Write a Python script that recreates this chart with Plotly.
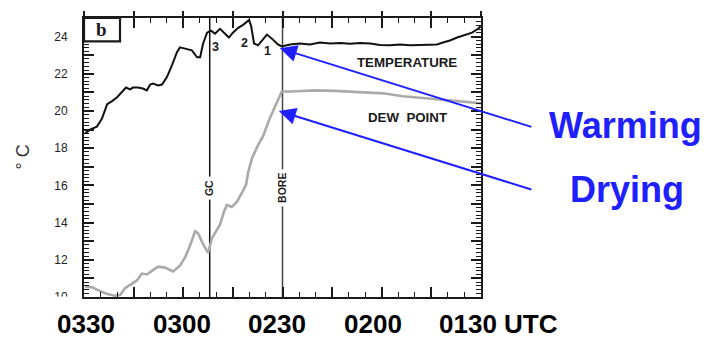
import plotly.graph_objects as go

# time axis: minutes after 0100 UTC (0330 -> 150, 0130 -> 30), plotted reversed
temp_t = [149.7, 148.2, 146.1, 144.6, 143.0, 141.5, 140.0, 138.5, 137.3, 136.1, 135.2, 133.7,
          132.2, 131.0, 130.0, 129.1, 127.6, 126.4, 124.9, 123.4, 121.9, 121.0, 119.5, 117.4,
          115.8, 114.9, 114.0, 112.8, 111.6, 110.4, 108.9, 107.7, 106.2, 105.0, 103.4, 101.9,
          100.7, 100.1, 99.5, 98.6, 97.4, 95.9, 94.7, 93.2, 91.4, 90.2, 87.7, 84.7, 81.7,
          78.7, 75.6, 72.6, 69.6, 66.6, 63.5, 60.5, 57.5, 54.5, 51.5, 48.4, 45.4, 43.3, 41.5,
          39.4, 37.2, 34.8, 32.7, 30.9, 30.0]
temp_v = [18.79, 19.00, 19.16, 19.58, 20.37, 20.53, 20.74, 21.05, 21.26, 21.16, 21.26, 21.26,
          21.21, 21.11, 21.42, 21.47, 21.37, 21.42, 21.84, 22.47, 23.16, 23.42, 23.37, 23.26,
          22.89, 22.89, 23.63, 24.21, 24.32, 24.16, 24.42, 24.21, 23.95, 24.21, 24.47, 24.63,
          24.84, 24.89, 24.58, 23.63, 23.53, 23.89, 24.11, 23.89, 23.58, 23.47, 23.58, 23.63,
          23.58, 23.68, 23.63, 23.66, 23.61, 23.66, 23.63, 23.55, 23.53, 23.58, 23.53, 23.55,
          23.55, 23.58, 23.68, 23.79, 23.95, 24.11, 24.21, 24.42, 24.58]

dew_t = [149.7, 147.6, 145.8, 143.0, 140.6, 139.1, 137.6, 135.5, 134.0, 132.5, 131.0, 129.4,
         127.6, 125.5, 123.1, 121.0, 119.5, 118.0, 116.4, 115.5, 114.0, 112.5, 111.3, 110.1,
         108.9, 107.7, 106.8, 105.3, 103.8, 102.2, 101.0, 100.4, 99.2, 97.4, 95.9, 93.8, 92.6,
         91.4, 90.2, 87.7, 84.7, 79.6, 74.1, 69.6, 63.5, 59.6, 53.6, 49.3, 43.3, 37.2, 31.2, 30.0]
dew_v = [10.54, 10.53, 10.37, 10.16, 10.07, 10.11, 10.47, 10.74, 10.89, 11.26, 11.21, 11.42,
         11.63, 11.58, 11.37, 11.68, 12.11, 12.74, 13.53, 13.42, 12.84, 12.37, 13.16, 13.53,
         13.89, 14.58, 14.95, 14.84, 15.11, 15.63, 16.05, 16.68, 17.47, 18.16, 18.63, 19.63, 20.11,
         20.63, 21.05, 21.05, 21.08, 21.11, 21.08, 21.05, 20.97, 20.95, 20.79, 20.74, 20.63,
         20.53, 20.47, 20.42]

event_t = [112, 90]
event_labels = ["GC", "BORE"]
event_label_y = 15.84

marker_t = [110.4, 101.5, 94.4]
marker_v = [23.42, 23.66, 23.24]
marker_labels = ["3", "2", "1"]

time_labels = ["0330", "0300", "0230", "0200", "0130 UTC"]
y_ticks = list(range(10, 26))
y_ticktext = [str(v) if v % 2 == 0 else "" for v in y_ticks]

warm_tip = (90.8, 23.37)
dry_tip = (91.1, 20.0)

BLUE = "#2020FF"
INK = "#1a1a1a"
SANS = "Liberation Sans, Arial, sans-serif"

fig = go.Figure()
fig.add_trace(go.Scatter(x=dew_t, y=dew_v, mode="lines",
                         line=dict(color="#aaaaaa", width=2.6), hoverinfo="skip"))
fig.add_trace(go.Scatter(x=temp_t, y=temp_v, mode="lines",
                         line=dict(color="#111111", width=2), hoverinfo="skip"))
# invisible trace on top axis for the crossing ticks
fig.add_trace(go.Scatter(x=[150, 30], y=[None, None], xaxis="x2", yaxis="y",
                         mode="lines", showlegend=False, hoverinfo="skip"))

shapes = []
for t, col in zip(event_t, ["#111111", "#444444"]):
    shapes.append(dict(type="line", xref="x", yref="paper", x0=t, x1=t, y0=0, y1=1,
                       line=dict(color=col, width=1.5), layer="below"))
# panel label box
shapes.append(dict(type="rect", xref="paper", yref="paper", x0=0, x1=0.0907,
                   y0=0.916, y1=1, line=dict(color=INK, width=2.2), fillcolor="white"))

ann = []
# white cover cutting the lowest y tick label
ann.append(dict(x=-0.012, y=0.004, xref="paper", yref="paper", xanchor="right",
                yanchor="top", text=" ", showarrow=False, bgcolor="white",
                width=40, height=16, borderpad=0))
for t, lab in zip(event_t, event_labels):
    ann.append(dict(x=t, y=event_label_y, xref="x", yref="y", text="<b>%s</b>" % lab,
                    showarrow=False, textangle=-90, bgcolor="white", borderpad=3,
                    xanchor="center", yanchor="middle",
                    font=dict(family=SANS, size=10.5, color=INK)))
for t, v, lab in zip(marker_t, marker_v, marker_labels):
    ann.append(dict(x=t, y=v, xref="x", yref="y", text="<b>%s</b>" % lab, showarrow=False,
                    xanchor="center", yanchor="middle",
                    font=dict(family=SANS, size=12.5, color=INK)))
ann.append(dict(x=52.5, y=22.63, xref="x", yref="y", text="<b>TEMPERATURE</b>",
                showarrow=False, xanchor="center", yanchor="middle",
                font=dict(family=SANS, size=13.3, color=INK)))
ann.append(dict(x=52.2, y=19.63, xref="x", yref="y", text="<b>DEW&nbsp;&nbsp;POINT</b>",
                showarrow=False, xanchor="center", yanchor="middle",
                font=dict(family=SANS, size=13.3, color=INK)))
ann.append(dict(x=0.0453, y=0.958, xref="paper", yref="paper", text="<b>b</b>",
                showarrow=False, xanchor="center", yanchor="middle",
                font=dict(family="Liberation Serif, serif", size=19, color=INK)))
ann.append(dict(x=-0.156, y=0.5, xref="paper", yref="paper", text="° C", textangle=-90,
                showarrow=False, xanchor="center", yanchor="middle",
                font=dict(family=SANS, size=18, color="#333333")))

label_px = [85.8, 181.7, 276.7, 372.5, 498.3]
for px, lab in zip(label_px, time_labels):
    ann.append(dict(x=(px - 84) / 397, y=-(325 - 297) / 285, xref="paper", yref="paper",
                    text="<b>%s</b>" % lab, showarrow=False,
                    xanchor="center", yanchor="middle",
                    font=dict(family=SANS, size=26, color="#000000")))

for tip, off in [(warm_tip, (253, 79)), (dry_tip, (254, 79))]:
    ann.append(dict(x=tip[0], y=tip[1], xref="x", yref="y", text="", showarrow=True,
                    ax=off[0], ay=off[1], arrowhead=2, arrowsize=1.7, arrowwidth=2,
                    arrowcolor=BLUE, standoff=0))
ann.append(dict(x=(625.5 - 84) / 397, y=1 - (122 - 12) / 285, xref="paper", yref="paper",
                text="<b>Warming</b>", showarrow=False, xanchor="center", yanchor="middle",
                font=dict(family=SANS, size=36, color=BLUE)))
ann.append(dict(x=(626.5 - 84) / 397, y=1 - (187 - 12) / 285, xref="paper", yref="paper",
                text="<b>Drying</b>", showarrow=False, xanchor="center", yanchor="middle",
                font=dict(family=SANS, size=36, color=BLUE)))

fig.update_layout(
    width=706, height=341,
    margin=dict(l=84, r=225, t=12, b=44),
    paper_bgcolor="white", plot_bgcolor="white",
    showlegend=False,
    shapes=shapes, annotations=ann,
    xaxis=dict(range=[150, 30], showgrid=False, zeroline=False, showline=True,
               linecolor=INK, linewidth=2, mirror="ticks",
               ticks="inside", ticklen=10, tickwidth=1.5, tickcolor=INK,
               tickmode="linear", tick0=30, dtick=15, showticklabels=False,
               minor=dict(ticks="inside", ticklen=5, tickwidth=1.2, tickcolor=INK,
                          dtick=5, tick0=30, showgrid=False)),
    xaxis2=dict(range=[150, 30], overlaying="x", side="top", showgrid=False,
                zeroline=False, showline=False, ticks="outside", ticklen=6,
                tickwidth=1.5, tickcolor=INK, tickmode="linear", tick0=30, dtick=15,
                showticklabels=False),
    yaxis=dict(range=[10, 25], showgrid=False, zeroline=False, showline=True,
               linecolor=INK, linewidth=2, mirror="ticks",
               ticks="inside", ticklen=10, tickwidth=1.5, tickcolor=INK,
               tickvals=y_ticks, ticktext=y_ticktext, ticklabelstandoff=12,
               tickfont=dict(family=SANS, size=12, color="#222222"),
               minor=dict(ticks="inside", ticklen=5, tickwidth=1.1, tickcolor=INK,
                          dtick=0.2, tick0=10, showgrid=False)),
)

fig.write_html("out.html")
